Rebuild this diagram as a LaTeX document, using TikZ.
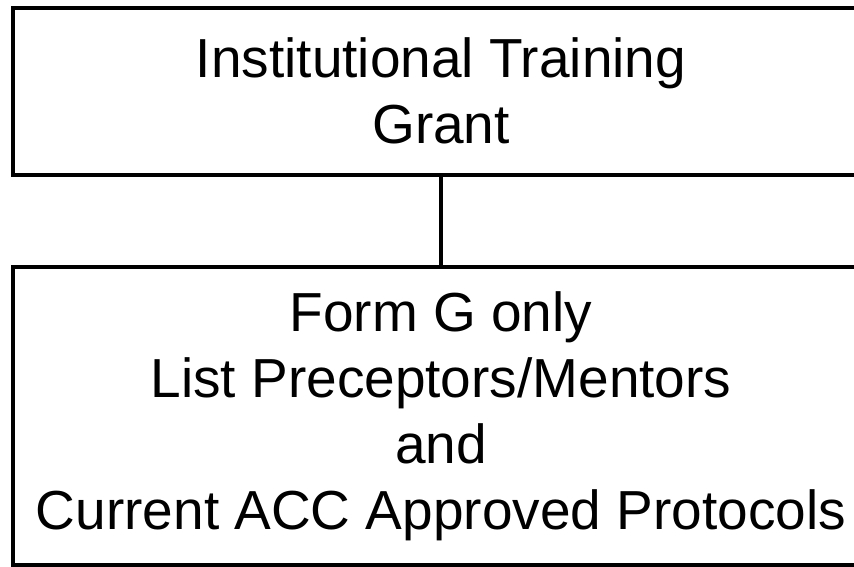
\documentclass[tikz,border=0pt]{standalone}
\usepackage{fontspec}
\setmainfont{Liberation Sans}
\begin{document}
\begin{tikzpicture}[x=1pt,y=-1pt,
  boxstyle/.style={draw=black, line width=4pt, align=center, inner sep=0pt,
    font=\fontsize{55}{66}\selectfont, minimum width=856pt},
  linkstyle/.style={draw=black, line width=4pt}]
\useasboundingbox (0,0) rectangle (854,566);
\clip (0,0) rectangle (854,566);
\node[boxstyle, minimum height=167.5pt] (grant) at (441,91.25) {Institutional Training\\Grant};
\node[boxstyle, minimum height=297.5pt] (form) at (441,416) {Form G only\\List Preceptors/Mentors\\and\\Current ACC Approved Protocols};
\draw[linkstyle] (grant.south) -- (form.north);
\end{tikzpicture}
\end{document}
